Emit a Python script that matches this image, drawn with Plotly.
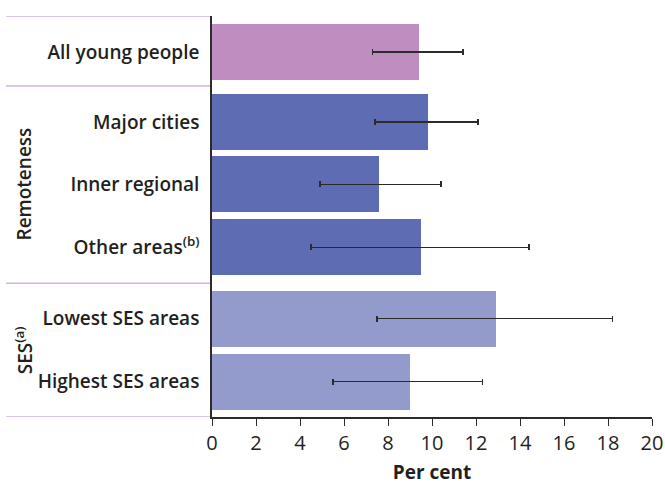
import plotly.graph_objects as go

# Categories, top to bottom
categories = ["All young people", "Major cities", "Inner regional",
              "Other areas<sup>(b)</sup>", "Lowest SES areas", "Highest SES areas"]
groups = ["All", "Remoteness", "Remoteness", "Remoteness", "SES", "SES"]

# Per cent estimates with 95% confidence limits
values = [9.4, 9.8, 7.6, 9.5, 12.9, 9.0]
ci_low = [7.3, 7.4, 4.9, 4.5, 7.5, 5.5]
ci_high = [11.4, 12.1, 10.4, 14.4, 18.2, 12.3]

x_ticks = [0, 2, 4, 6, 8, 10, 12, 14, 16, 18, 20]

# Layout positions of the rows (slightly larger gaps between groups)
row_pos = [0, 1.11, 2.1, 3.1, 4.23, 5.23]
group_colors = {"All": "#BF8DC0", "Remoteness": "#5D6CB3", "SES": "#939BCD"}
FONT = "Open Sans"
TEXT = "#231f20"

fig = go.Figure()
fig.add_trace(go.Bar(
    x=values,
    y=row_pos,
    orientation="h",
    width=0.89,
    marker=dict(color=[group_colors[g] for g in groups], line=dict(width=0)),
    error_x=dict(
        type="data",
        symmetric=False,
        array=[h - v for h, v in zip(ci_high, values)],
        arrayminus=[v - l for l, v in zip(ci_low, values)],
        color="#2b2b2b",
        thickness=1.6,
        width=3,
    ),
    hoverinfo="skip",
))

# Group separator lines extending into the label area
sep_lines = [-0.57, 0.54, 3.67, 5.79]
for yv in sep_lines:
    fig.add_shape(type="line", xref="paper", yref="y",
                  x0=-0.468, x1=0, y0=yv, y1=yv,
                  line=dict(color="#D4B4DA", width=1.5), layer="below")

# Rotated group labels
fig.add_annotation(text="Remoteness", xref="paper", yref="y",
                   x=-0.427, y=2.1, textangle=-90, showarrow=False,
                   xanchor="center", yanchor="middle",
                   font=dict(family=FONT, size=19, color=TEXT, weight=600))
fig.add_annotation(text="SES<sup>(a)</sup>", xref="paper", yref="y",
                   x=-0.427, y=4.73, textangle=-90, showarrow=False,
                   xanchor="center", yanchor="middle",
                   font=dict(family=FONT, size=19, color=TEXT, weight=600))

fig.update_layout(
    width=665, height=485,
    margin=dict(l=212, r=13, t=16, b=68, autoexpand=False),
    paper_bgcolor="white", plot_bgcolor="white",
    showlegend=False,
    bargap=0,
    font=dict(family=FONT, size=19, color=TEXT),
    xaxis=dict(
        range=[0, 20], tickvals=x_ticks, ticktext=[str(t) for t in x_ticks],
        automargin=False,
        showgrid=False, zeroline=False,
        showline=True, linecolor="#2b2b2b", linewidth=1.6,
        ticks="outside", ticklen=7, tickwidth=1.4, tickcolor="#2b2b2b",
        tickfont=dict(family=FONT, size=20, color=TEXT, weight=500),
        title=dict(text="<b>Per cent</b>", standoff=12,
                   font=dict(family=FONT, size=19, color=TEXT)),
    ),
    yaxis=dict(
        range=[5.79, -0.57],
        tickvals=row_pos, ticktext=categories,
        automargin=False,
        showgrid=False, zeroline=False,
        showline=True, linecolor="#2b2b2b", linewidth=1.6,
        ticks="", ticklabelstandoff=7,
        tickfont=dict(family=FONT, size=19, color=TEXT, weight=600),
    ),
)

fig.write_html("out.html")
